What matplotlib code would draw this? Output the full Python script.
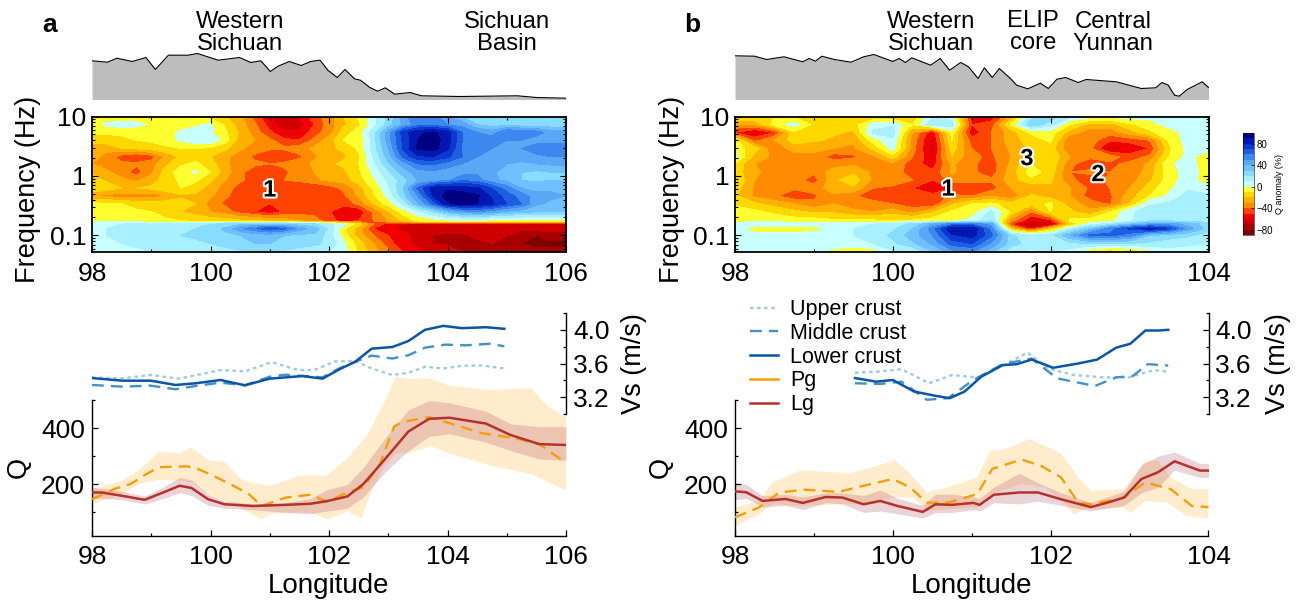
"""Q anomaly sections, topography, Vs and Q profiles along two longitude transects."""

import matplotlib
matplotlib.use("Agg")
import matplotlib.pyplot as plt
import matplotlib.patheffects as pe
from matplotlib.colors import BoundaryNorm, ListedColormap
from matplotlib.cm import ScalarMappable
from matplotlib.lines import Line2D
from matplotlib.ticker import NullFormatter, NullLocator

plt.rcParams["font.family"] = ["Liberation Sans", "DejaVu Sans"]

W, H = 1299, 601

# colour levels of the anomaly scale
levels = [-90, -80, -70, -60, -50, -40, -30, -20, -10, 0, 10, 20, 30, 40, 50, 60, 70, 80, 90, 100]
level_colors = ["#7d0000", "#a80000", "#d00000", "#f00000", "#ff4300", "#ff8c00", "#ffb000", "#ffd800",
                "#ffff30", "#c8ffff", "#a8f0ff", "#88dcff", "#70c0ff", "#5aa8f5", "#3c88ee", "#1e5ee0",
                "#0a38d0", "#0018b0", "#000080"]

# section rows (Hz)
freq = [10, 7.3, 5.4, 4.0, 2.9, 2.1, 1.6, 1.15, 0.85, 0.62, 0.46, 0.34, 0.25, 0.175, 0.155, 0.13, 0.1, 0.073, 0.052]

lon_a = [98 + 0.25 * i for i in range(33)]
q_a = [
    [-5, -8, -8, -8, -8, -8, -10, -12, -15, -20, -28, -45, -58, -68, -58, -45, -35, -20, -8, 8, 22, 45, 60, 55, 40, 30, 25, 25, 22, 20, 22, 22, 22],
    [-8, 3, 5, 4, -2, -8, -8, -2, 2, -12, -25, -38, -55, -68, -65, -50, -35, -22, -12, 5, 25, 42, 55, 55, 50, 45, 30, 25, 25, 22, 22, 22, 22],
    [-8, -8, -8, -8, -8, -5, 3, 5, 2, -8, -22, -35, -48, -58, -58, -45, -35, -15, -5, 15, 45, 75, 88, 92, 85, 60, 50, 45, 60, 60, 55, 45, 45],
    [-15, -15, -12, -10, -8, -5, 2, 8, 10, -5, -25, -30, -38, -48, -50, -38, -25, -10, -8, 15, 45, 72, 90, 95, 85, 60, 55, 55, 50, 50, 45, 40, 40],
    [-25, -25, -20, -18, -15, -12, -10, -10, -12, -18, -28, -35, -38, -38, -35, -28, -22, -18, -8, 15, 40, 72, 92, 95, 82, 58, 55, 50, 50, 50, 55, 60, 60],
    [-25, -35, -45, -50, -45, -28, -18, -15, -20, -28, -35, -42, -48, -48, -42, -32, -25, -22, -12, 10, 35, 62, 78, 80, 72, 60, 50, 48, 50, 45, 48, 50, 50],
    [-30, -35, -38, -38, -35, -22, -12, -8, -15, -28, -35, -38, -40, -38, -35, -28, -22, -18, -10, 8, 28, 45, 60, 62, 55, 50, 45, 45, 40, 38, 40, 42, 42],
    [-22, -28, -35, -45, -32, -15, -5, 2, -10, -25, -38, -45, -45, -42, -35, -30, -28, -22, -12, 2, 18, 35, 45, 48, 45, 45, 48, 42, 35, 30, 28, 30, 30],
    [-15, -22, -28, -32, -25, -15, -8, -8, -18, -30, -38, -45, -45, -40, -38, -32, -28, -25, -15, -2, 12, 25, 40, 42, 48, 58, 55, 42, 38, 30, 28, 30, 30],
    [-10, -15, -20, -20, -18, -12, -10, -15, -25, -35, -45, -48, -48, -45, -48, -50, -45, -38, -25, -8, 8, 30, 62, 85, 88, 85, 82, 70, 55, 40, 35, 38, 38],
    [-30, -33, -35, -35, -35, -30, -22, -22, -28, -38, -45, -48, -45, -45, -45, -45, -45, -42, -28, -12, 3, 25, 50, 80, 95, 95, 92, 78, 65, 55, 45, 42, 40],
    [-8, -8, -10, -15, -15, -15, -15, -20, -35, -42, -45, -48, -50, -48, -45, -45, -45, -45, -38, -20, -5, 12, 38, 62, 88, 95, 90, 82, 70, 60, 42, 38, 38],
    [-5, -5, -5, -8, -10, -15, -20, -25, -30, -35, -45, -50, -58, -48, -45, -45, -48, -62, -58, -38, -22, -5, 8, 20, 35, 45, 50, 45, 38, 35, 30, 30, 30],
    [-5, -5, -5, -5, -8, -8, -10, -12, -15, -15, -18, -20, -22, -25, -30, -35, -45, -55, -50, -40, -30, -18, -8, -5, -3, -3, -3, -5, -5, -5, -5, -5, -5],
    [10, 10, 10, 12, 10, 12, 15, 18, 20, 22, 28, 30, 30, 28, 25, 22, 12, 5, -15, -40, -55, -60, -62, -62, -62, -62, -62, -65, -65, -65, -65, -65, -65],
    [10, 10, 12, 12, 12, 15, 18, 20, 25, 32, 48, 58, 68, 62, 45, 35, 18, -8, -25, -50, -58, -62, -60, -62, -65, -65, -68, -65, -65, -65, -65, -65, -65],
    [8, 10, 12, 12, 15, 15, 20, 22, 25, 28, 30, 35, 35, 30, 28, 28, 15, -5, -25, -40, -50, -58, -62, -70, -72, -72, -68, -68, -70, -78, -80, -75, -75],
    [6, 6, 10, 12, 12, 12, 15, 18, 20, 25, 28, 30, 30, 28, 25, 22, 18, 2, -15, -30, -45, -58, -62, -70, -72, -78, -72, -70, -75, -80, -82, -82, -82],
    [8, 5, 5, 8, 10, 10, 10, 12, 12, 15, 18, 20, 20, 18, 15, 15, 10, 5, -12, -25, -38, -50, -58, -65, -62, -70, -72, -72, -75, -78, -78, -78, -78],
]

lon_b = [98 + 0.25 * i for i in range(25)]
q_b = [
    [-8, -8, -10, -12, -15, -18, -18, -22, -20, -18, 8, 5, -55, -58, -28, 15, 25, 12, 6, 5, 5, 4, 5, 6, 6],
    [-30, -30, -5, 4, -12, -15, -15, 5, 8, -10, 18, 15, -50, -45, -8, 28, 15, -10, -25, -25, -12, -5, 4, 6, 6],
    [-50, -60, -50, -12, -10, -18, -22, 12, 15, -30, -58, -5, -58, -40, -25, -8, -5, -25, -35, -35, -25, -12, -5, 5, 6],
    [-8, -45, -30, -15, -18, -22, -28, -5, 8, -35, -62, -10, -45, -40, -25, -15, -8, -40, -35, -48, -45, -40, -8, 5, 6],
    [-5, -15, -38, -25, -28, -30, -32, -18, 5, -35, -65, -15, -40, -40, -28, -18, -15, -40, -38, -65, -60, -50, -12, 4, 5],
    [5, -25, -32, -35, -32, -45, -42, -32, -15, -40, -58, -20, -38, -42, -30, -15, -12, -30, -38, -35, -45, -38, -10, 4, -8],
    [-12, -30, -32, -35, -35, -35, -32, -32, -32, -45, -55, -28, -38, -45, -28, -10, -12, -38, -45, -42, -38, -28, -2, 5, -8],
    [-15, -28, -35, -38, -38, -25, -22, -32, -35, -45, -48, -28, -38, -45, -25, -5, -15, -40, -38, -40, -38, -25, -5, 5, -5],
    [-10, -30, -38, -35, -45, -22, -15, -32, -35, -40, -50, -35, -35, -38, -25, -12, -18, -38, -45, -38, -35, -22, -5, 6, -8],
    [-15, -32, -35, -38, -35, -25, -22, -40, -42, -50, -55, -50, -50, -45, -30, -28, -22, -30, -42, -40, -30, -15, -2, 8, 4],
    [-18, -32, -38, -48, -42, -32, -38, -48, -40, -42, -48, -38, -40, -30, -40, -18, -25, -30, -45, -42, -25, -10, 2, 15, 12],
    [-12, -18, -25, -30, -38, -30, -35, -35, -40, -45, -50, -22, -10, -8, -15, -15, -8, -25, -35, -42, -20, 8, 12, 12, 10],
    [-5, -8, -12, -18, -22, -22, -28, -30, -25, -35, -22, -8, -5, 12, -12, -40, -10, -18, -28, -10, 8, 15, 18, 15, 15],
    [-5, -5, -5, -5, -5, -8, -8, -8, -10, -8, -5, -2, 3, 20, -35, -60, -55, -8, -5, -3, 8, 20, 20, 18, 15],
    [8, 10, 10, 8, 8, 8, 8, 10, 15, 22, 40, 55, 58, 45, -50, -75, -70, -20, 5, 15, 30, 42, 45, 35, 25],
    [8, -8, -8, -8, -8, 8, 10, 12, 18, 30, 55, 90, 90, 55, -20, -55, -20, 10, 30, 55, 72, 85, 72, 45, 25],
    [5, 6, 6, 6, 8, 8, 10, 15, 22, 35, 50, 78, 85, 62, 22, 12, 15, 40, 62, 62, 55, 30, 25, 22, 15],
    [5, 5, 5, 6, 6, 8, 8, 10, 18, 28, 42, 65, 70, 48, 25, 15, 12, 18, 20, 22, 20, 18, 15, 12, 10],
    [5, 5, 5, 5, 4, -5, -10, -5, 8, 10, 28, 45, 50, 32, 12, 8, 10, 5, -10, -20, -15, -5, 5, 5, 5],
]

# topography (km, the vertical scale is not labelled in the source)
topo_lon_a = [98.0, 98.26, 98.42, 98.68, 98.91, 99.07, 99.29, 99.62, 99.78, 100.13, 100.49, 100.68, 100.85, 101.01, 101.14, 101.33, 101.53, 101.69, 101.85, 101.98, 102.14, 102.27, 102.43, 102.53, 102.69, 102.82, 102.95, 103.11, 103.37, 103.56, 104.21, 105.18, 105.5, 106.0]
topo_a = [3.87, 3.73, 4.13, 3.8, 4.2, 3.0, 4.43, 4.43, 4.6, 3.93, 4.2, 3.7, 3.87, 2.8, 3.33, 3.8, 3.4, 3.8, 3.93, 2.93, 2.2, 3.0, 2.07, 1.93, 1.2, 0.83, 1.17, 0.53, 0.7, 0.37, 0.3, 0.37, 0.2, 0.13]
topo_lon_b = [98.0, 98.25, 98.4, 98.62, 98.86, 98.94, 99.02, 99.1, 99.26, 99.47, 99.63, 99.76, 100.0, 100.08, 100.16, 100.24, 100.48, 100.6, 100.72, 100.86, 100.96, 101.08, 101.16, 101.26, 101.35, 101.49, 101.57, 101.71, 101.87, 101.97, 102.08, 102.19, 102.35, 102.45, 102.83, 103.15, 103.33, 103.41, 103.49, 103.57, 103.63, 103.73, 103.92, 104.0]
topo_b = [4.37, 4.33, 4.0, 4.27, 3.77, 4.1, 3.83, 4.33, 4.0, 3.73, 4.27, 4.5, 3.8, 4.1, 3.7, 4.17, 3.43, 4.1, 2.93, 3.7, 3.27, 2.1, 3.17, 2.2, 3.1, 2.1, 1.43, 1.07, 1.63, 1.1, 2.03, 2.2, 1.7, 2.0, 1.77, 1.1, 1.17, 1.7, 1.43, 0.43, 0.33, 1.0, 1.77, 1.2]

# Vs, panel a
lower_lon_a = [98, 98.51, 98.99, 99.41, 99.75, 100.17, 100.58, 101.0, 101.55, 101.89, 102.17, 102.44, 102.72, 103.07, 103.34, 103.62, 103.93, 104.24, 104.65, 104.96]
lower_a = [3.427, 3.396, 3.396, 3.345, 3.365, 3.404, 3.341, 3.42, 3.451, 3.42, 3.529, 3.62, 3.776, 3.796, 3.867, 4.0, 4.047, 4.02, 4.031, 4.012]
middle_lon_a = [98, 98.51, 98.99, 99.41, 99.75, 100.17, 100.58, 101.0, 101.27, 101.89, 102.17, 102.51, 102.72, 103.07, 103.34, 103.62, 103.96, 104.31, 104.72, 104.96]
middle_a = [3.345, 3.325, 3.337, 3.294, 3.333, 3.373, 3.341, 3.443, 3.467, 3.435, 3.541, 3.639, 3.694, 3.659, 3.698, 3.788, 3.824, 3.816, 3.835, 3.804]
upper_lon_a = [98, 98.51, 98.99, 99.47, 100.17, 100.58, 101.03, 101.48, 101.75, 102.1, 102.44, 102.72, 103.07, 103.34, 103.62, 103.93, 104.24, 104.58, 104.96]
upper_a = [3.435, 3.424, 3.463, 3.42, 3.522, 3.506, 3.616, 3.522, 3.522, 3.624, 3.631, 3.541, 3.463, 3.49, 3.561, 3.541, 3.573, 3.576, 3.541]

# Vs, panel b
upper_lon_b = [99.52, 99.79, 100.11, 100.46, 100.75, 101.07, 101.34, 101.71, 101.97, 102.29, 102.67, 102.99, 103.31, 103.49]
upper_b = [3.49, 3.502, 3.533, 3.365, 3.463, 3.435, 3.553, 3.729, 3.541, 3.463, 3.435, 3.435, 3.522, 3.502]
middle_lon_b = [99.52, 99.84, 100.11, 100.43, 100.7, 101.02, 101.39, 101.76, 102.08, 102.56, 102.83, 103.04, 103.23, 103.49]
middle_b = [3.365, 3.357, 3.384, 3.169, 3.188, 3.404, 3.592, 3.659, 3.424, 3.333, 3.435, 3.451, 3.592, 3.576]
lower_lon_b = [99.52, 99.79, 100.0, 100.27, 100.54, 100.72, 100.91, 101.12, 101.39, 101.57, 101.76, 102.03, 102.35, 102.59, 102.83, 103.01, 103.2, 103.36, 103.49]
lower_b = [3.427, 3.384, 3.404, 3.267, 3.216, 3.188, 3.267, 3.443, 3.58, 3.592, 3.647, 3.549, 3.6, 3.647, 3.788, 3.835, 3.992, 3.992, 4.0]

# Q, panel a
lg_lon_a = [98, 98.17, 98.51, 98.89, 99.2, 99.48, 99.68, 99.96, 100.24, 100.72, 101.27, 101.69, 101.96, 102.31, 102.58, 102.93, 103.34, 103.69, 104.03, 104.65, 105.07, 105.55, 106]
lg_a = [171, 171, 159, 145, 171, 195, 187, 147, 129, 123, 127, 131, 140, 157, 201, 286, 388, 433, 437, 416, 375, 343, 340]
lg_hi_a = [190, 185, 175, 158, 190, 225, 215, 165, 140, 130, 135, 150, 180, 200, 260, 360, 465, 498, 490, 460, 415, 405, 405]
lg_lo_a = [150, 150, 145, 130, 150, 170, 160, 125, 115, 110, 100, 95, 105, 115, 155, 240, 320, 370, 380, 350, 320, 290, 285]
pg_lon_a = [98, 98.37, 98.65, 98.92, 99.13, 99.61, 99.82, 100.1, 100.44, 100.65, 100.86, 101.27, 101.69, 101.96, 102.38, 102.58, 102.86, 103.1, 103.24, 103.69, 104.03, 104.58, 105.14, 105.55, 106]
pg_a = [147, 183, 201, 237, 261, 264, 252, 225, 189, 165, 123, 153, 163, 139, 177, 189, 273, 406, 422, 439, 418, 382, 364, 343, 276]
pg_hi_lon_a = [98, 98.51, 98.79, 99.13, 99.48, 99.68, 99.96, 100.24, 100.51, 100.72, 101.0, 101.27, 101.48, 101.96, 102.31, 102.65, 102.93, 103.13, 103.34, 103.69, 104.03, 104.72, 105.41, 105.69, 106]
pg_hi_a = [183, 213, 249, 316, 310, 331, 286, 280, 219, 204, 195, 213, 231, 231, 292, 376, 490, 584, 575, 577, 551, 535, 543, 478, 439]
pg_lo_lon_a = [98, 98.51, 98.79, 99.13, 99.48, 99.68, 99.96, 100.24, 100.51, 100.86, 101.0, 101.27, 101.69, 102.0, 102.31, 102.55, 102.72, 102.93, 103.13, 103.34, 103.72, 104.03, 104.72, 105.41, 106]
pg_lo_a = [129, 165, 201, 216, 213, 207, 165, 141, 117, 75, 93, 99, 99, 75, 105, 78, 177, 261, 310, 310, 336, 310, 267, 237, 177]

# Q, panel b
lg_lon_b = [98, 98.14, 98.35, 98.64, 98.86, 99.15, 99.36, 99.63, 99.84, 100.06, 100.38, 100.54, 100.75, 101.02, 101.1, 101.28, 101.6, 101.84, 102.13, 102.51, 102.72, 102.93, 103.15, 103.36, 103.57, 103.89, 104]
lg_b = [175, 172, 141, 148, 134, 155, 153, 129, 141, 123, 102, 129, 127, 134, 127, 163, 171, 171, 147, 119, 135, 153, 219, 243, 282, 249, 249]
lg_hi_b = [205, 200, 160, 165, 155, 170, 170, 160, 180, 150, 125, 165, 165, 155, 150, 190, 240, 205, 170, 135, 155, 175, 270, 300, 315, 275, 275]
lg_lo_b = [145, 150, 120, 125, 110, 135, 130, 100, 105, 95, 80, 100, 100, 110, 105, 135, 130, 140, 125, 105, 115, 125, 170, 190, 250, 225, 225]
pg_lon_b = [98, 98.3, 98.56, 98.88, 99.31, 99.63, 100.0, 100.22, 100.43, 100.7, 101.07, 101.26, 101.63, 101.87, 102.13, 102.35, 102.51, 102.93, 103.2, 103.52, 103.79, 104]
pg_b = [83, 117, 171, 181, 173, 195, 219, 189, 135, 135, 165, 255, 288, 267, 225, 135, 129, 153, 207, 183, 123, 119]
pg_hi_lon_b = [98, 98.3, 98.48, 98.83, 99.47, 99.74, 100.03, 100.22, 100.43, 100.7, 101.07, 101.23, 101.39, 101.73, 102.13, 102.35, 102.51, 102.93, 103.2, 103.36, 103.52, 103.79, 104]
pg_hi_b = [117, 141, 207, 249, 240, 261, 286, 237, 171, 189, 225, 319, 322, 361, 310, 225, 177, 183, 280, 285, 225, 183, 183]
pg_lo_lon_b = [98, 98.3, 98.48, 98.83, 99.31, 99.63, 100.0, 100.27, 100.43, 100.7, 101.07, 101.26, 101.63, 101.92, 102.13, 102.29, 102.45, 102.93, 103.01, 103.2, 103.47, 103.73, 104]
pg_lo_b = [51, 93, 129, 123, 129, 129, 153, 153, 105, 111, 117, 165, 201, 189, 147, 93, 111, 117, 99, 141, 135, 87, 78]

C_UPPER, C_MIDDLE, C_LOWER = "#9ecae1", "#4292c6", "#0b55a8"
C_PG, C_LG = "#f59e0b", "#b7312c"


def add_axes_px(fig, left, top, right, bottom):
    return fig.add_axes([left / W, 1 - bottom / H, (right - left) / W, (bottom - top) / H])


def fig_text(fig, x, y, s, **kw):
    fig.text(x / W, 1 - y / H, s, ha="center", va="center", **kw)


def draw_panel(fig, left, right, xmax, lon, q, topo_lon, topo, labels,
               vs_lines, lg, lg_hi, lg_lo, pg, pg_hi, pg_lo, numbers, freq_x, q_x, vs_x):
    xticks = list(range(98, xmax + 1, 2))
    xminor = list(range(98, xmax + 1, 1))

    # topography
    ax = add_axes_px(fig, left, 45, right, 99.5)
    ax.fill_between(topo_lon, 0, topo, color="#bdbdbd", lw=0)
    ax.plot(topo_lon, topo, color="black", lw=0.8)
    ax.set_xlim(98, xmax)
    ax.set_ylim(0, 5.45)
    ax.axis("off")

    # frequency section
    ax = add_axes_px(fig, left, 116.5, right, 252)
    ax.contourf(lon, freq, q, levels=levels, colors=level_colors, extend="both")
    ax.set_yscale("log")
    ax.set_xlim(98, xmax)
    ax.set_ylim(0.0525, 10)
    ax.set_xticks(xticks)
    ax.set_xticks(xminor, minor=True)
    ax.set_yticks([0.1, 1, 10])
    ax.set_yticklabels(["0.1", "1", "10"])
    ax.yaxis.set_minor_formatter(NullFormatter())
    ax.tick_params(which="both", direction="in", top=True, right=True, width=0.8, color="black")
    ax.tick_params(which="major", length=4, labelsize=19, pad=7)
    ax.tick_params(which="minor", length=2)
    ax.tick_params(axis="y", which="major", pad=4)
    for sp in ax.spines.values():
        sp.set_linewidth(1.3)
    ax.set_ylabel("Frequency (Hz)", fontsize=19.5)
    ax.yaxis.set_label_coords((freq_x + 10 - left) / (right - left), 0.46)
    stroke = [pe.withStroke(linewidth=3, foreground="white")]
    for nx, ny, s in numbers:
        ax.text(nx, ny, s, fontsize=17, fontweight="bold", ha="center", va="center", path_effects=stroke)

    # Q profiles
    ax = add_axes_px(fig, left, 400, right, 535.5)
    # the Pg band rises above the end of the axis in panel a
    ax.fill(list(pg_hi[0]) + list(pg_lo[0])[::-1], list(pg_hi[1]) + list(pg_lo[1])[::-1],
            color="#feeccd", lw=0, zorder=1, clip_on=False)
    ax.fill_between(lg[0], lg_lo, lg_hi, color="#a83c50", alpha=0.22, lw=0, zorder=2)
    ax.plot(pg[0], pg[1], color=C_PG, lw=1.7, dashes=(5, 3), zorder=3)
    ax.plot(lg[0], lg[1], color=C_LG, lw=1.8, zorder=4)
    ax.set_xlim(98, xmax)
    ax.set_ylim(18, 500)
    ax.set_xticks(xticks)
    ax.set_xticks(xminor, minor=True)
    ax.set_yticks([200, 400])
    ax.set_yticks([100, 300, 500], minor=True)
    ax.tick_params(which="both", direction="in", width=0.9)
    ax.tick_params(which="major", length=4, labelsize=19, pad=7)
    ax.tick_params(which="minor", length=2.5)
    ax.tick_params(axis="y", which="major", pad=5)
    ax.spines["top"].set_visible(False)
    ax.spines["right"].set_visible(False)
    ax.spines["left"].set_linewidth(1)
    ax.spines["bottom"].set_linewidth(1)
    ax.patch.set_alpha(0)
    ax.set_xlabel("Longitude", fontsize=20, labelpad=3)
    ax.set_ylabel("Q", fontsize=19.5)
    ax.yaxis.set_label_coords((q_x + 10 - left) / (right - left), 0.5)

    # Vs profiles
    ax = add_axes_px(fig, left, 313, right, 414)
    for (x, y), color, style in vs_lines:
        if style == "solid":
            ax.plot(x, y, color=color, lw=1.8)
        elif style == "dash":
            ax.plot(x, y, color=color, lw=1.7, dashes=(5, 3))
        else:
            ax.plot(x, y, color=color, lw=1.7, dashes=(1.5, 1.5))
    ax.set_xlim(98, xmax)
    ax.set_ylim(3.0, 4.2)
    ax.patch.set_alpha(0)
    for name in ("top", "left", "bottom"):
        ax.spines[name].set_visible(False)
    ax.spines["right"].set_linewidth(1)
    ax.xaxis.set_major_locator(NullLocator())
    ax.yaxis.tick_right()
    ax.yaxis.set_label_position("right")
    ax.set_yticks([3.2, 3.6, 4.0])
    ax.set_yticklabels(["3.2", "3.6", "4.0"])
    ax.set_yticks([3.0, 3.4, 3.8, 4.2], minor=True)
    ax.tick_params(which="both", direction="in", width=0.9)
    ax.tick_params(which="major", length=4, labelsize=19, pad=5)
    ax.tick_params(which="minor", length=2.5)
    ax.set_ylabel("Vs (m/s)", fontsize=19.5)
    ax.yaxis.set_label_coords((vs_x - 10 - left) / (right - left), 0.5)

    for tx, ty, s in labels:
        fig_text(fig, tx, ty, s, fontsize=17.2, linespacing=1.05)


fig = plt.figure(figsize=(W / 100, H / 100), dpi=100)

draw_panel(
    fig, 92, 566, 106, lon_a, q_a, topo_lon_a, topo_a,
    [(240, 33, "Western\nSichuan"), (507, 33, "Sichuan\nBasin")],
    [((upper_lon_a, upper_a), C_UPPER, "dot"), ((middle_lon_a, middle_a), C_MIDDLE, "dash"),
     ((lower_lon_a, lower_a), C_LOWER, "solid")],
    (lg_lon_a, lg_a), lg_hi_a, lg_lo_a, (pg_lon_a, pg_a), (pg_hi_lon_a, pg_hi_a), (pg_lo_lon_a, pg_lo_a),
    [(101.0, 0.58, "1")], 31, 22, 631,
)
draw_panel(
    fig, 735, 1208.5, 104, lon_b, q_b, topo_lon_b, topo_b,
    [(931, 33, "Western\nSichuan"), (1033, 32, "ELIP\ncore"), (1113, 33, "Central\nYunnan")],
    [((upper_lon_b, upper_b), C_UPPER, "dot"), ((middle_lon_b, middle_b), C_MIDDLE, "dash"),
     ((lower_lon_b, lower_b), C_LOWER, "solid")],
    (lg_lon_b, lg_b), lg_hi_b, lg_lo_b, (pg_lon_b, pg_b), (pg_hi_lon_b, pg_hi_b), (pg_lo_lon_b, pg_lo_b),
    [(100.7, 0.6, "1"), (102.6, 1.05, "2"), (101.7, 1.95, "3")], 675, 664, 1275,
)

fig_text(fig, 50, 25, "a", fontsize=19, fontweight="bold")
fig_text(fig, 692, 25, "b", fontsize=19, fontweight="bold")

handles = [
    Line2D([], [], color=C_UPPER, lw=1.7, dashes=(1.5, 1.5)),
    Line2D([], [], color=C_MIDDLE, lw=1.7, dashes=(5, 3)),
    Line2D([], [], color=C_LOWER, lw=1.8),
    Line2D([], [], color=C_PG, lw=1.8),
    Line2D([], [], color=C_LG, lw=1.8),
]
fig.legend(handles, ["Upper crust", "Middle crust", "Lower crust", "Pg", "Lg"],
           loc="upper left", bbox_to_anchor=(735 / W, 1 - 284 / H), frameon=False, fontsize=15.5,
           handlelength=1.3, handletextpad=0.55, labelspacing=0.13, borderpad=0.2)

# colour bar
cax = add_axes_px(fig, 1243, 133, 1254, 235)
cmap = ListedColormap(level_colors)
cb = fig.colorbar(ScalarMappable(norm=BoundaryNorm(levels, cmap.N), cmap=cmap), cax=cax,
                  ticks=[-80, -40, 0, 40, 80], spacing="proportional")
cb.ax.tick_params(labelsize=7, length=2, width=0.5, pad=2, direction="in")
cb.outline.set_linewidth(0.4)
cb.ax.minorticks_off()
cb.set_label("Q anomaly (%)", fontsize=6.5, labelpad=1)

fig.savefig("out.png", dpi=100)
